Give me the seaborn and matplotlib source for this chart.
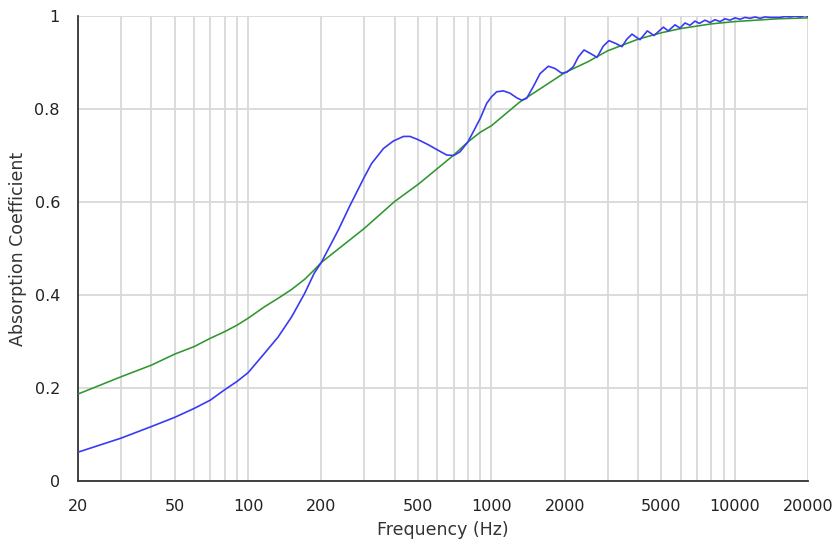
import numpy as np
import pandas as pd
import matplotlib
matplotlib.use("Agg")
import matplotlib.pyplot as plt
import seaborn as sns
from matplotlib.ticker import FixedLocator, NullFormatter

# ---- data ----
blue_freq = [20, 30, 40, 50, 60, 70, 80, 90, 100, 117, 133, 151, 171, 187, 200,
             235, 262, 300, 322, 360, 395, 435, 463, 500, 551, 600, 655, 700, 743,
             800, 856, 900, 956, 1000, 1051, 1120, 1192, 1271, 1332, 1396, 1486,
             1584, 1714, 1826, 1944, 2039, 2171, 2276, 2402, 2560, 2716, 2880, 3043,
             3240, 3440, 3600, 3782, 3900, 4080, 4372, 4658, 5087, 5333, 5680, 5957,
             6246, 6547, 6866, 7152, 7549, 7915, 8296, 8698, 9120, 9560, 10023,
             10510, 11018, 11557, 12114, 12700, 13316, 13960, 15349, 16090, 16868,
             17686, 18542, 19440, 20000]
blue_vals = [0.062, 0.092, 0.117, 0.137, 0.156, 0.174, 0.196, 0.214, 0.233, 0.275,
             0.310, 0.353, 0.404, 0.447, 0.470, 0.540, 0.592, 0.653, 0.683, 0.715,
             0.731, 0.741, 0.741, 0.734, 0.723, 0.712, 0.701, 0.700, 0.708, 0.729,
             0.758, 0.780, 0.812, 0.826, 0.837, 0.839, 0.834, 0.824, 0.819, 0.823,
             0.848, 0.876, 0.892, 0.887, 0.877, 0.879, 0.891, 0.912, 0.927, 0.919,
             0.911, 0.935, 0.947, 0.941, 0.934, 0.950, 0.961, 0.956, 0.949, 0.968,
             0.958, 0.976, 0.968, 0.981, 0.974, 0.985, 0.980, 0.989, 0.984, 0.991,
             0.986, 0.992, 0.988, 0.994, 0.991, 0.996, 0.993, 0.997, 0.995, 0.998,
             0.995, 0.998, 0.997, 0.997, 0.999, 0.998, 1.000, 0.998, 1.001, 0.999]

green_freq = [20, 30, 40, 50, 60, 70, 80, 90, 100, 117, 133, 151, 171, 187, 200,
              300, 400, 500, 600, 700, 800, 900, 1000, 1300, 1560, 2000, 2500, 3000,
              4000, 5000, 6000, 8000, 10000, 15000, 20000]
green_vals = [0.187, 0.224, 0.249, 0.273, 0.289, 0.307, 0.321, 0.335, 0.350, 0.375,
              0.393, 0.412, 0.434, 0.454, 0.470, 0.543, 0.601, 0.638, 0.672, 0.701,
              0.729, 0.750, 0.764, 0.814, 0.841, 0.878, 0.902, 0.925, 0.950, 0.964,
              0.973, 0.983, 0.988, 0.994, 0.996]

x_major = [20, 50, 100, 200, 500, 1000, 2000, 5000, 10000, 20000]
x_grid = [20, 30, 40, 50, 60, 70, 80, 90, 100, 200, 300, 400, 500, 600, 700, 800,
          900, 1000, 2000, 3000, 4000, 5000, 6000, 7000, 8000, 9000, 10000, 20000]
y_ticks = [0, 0.2, 0.4, 0.6, 0.8, 1]
y_labels = ["0", "0.2", "0.4", "0.6", "0.8", "1"]

# ---- plot ----
sns.set_style("white")
plt.rcParams["font.family"] = ["DejaVu Sans"]

fig = plt.figure(figsize=(8.4, 5.43), dpi=100)
ax = fig.add_axes([78 / 840, 1 - 481 / 543, 730 / 840, 465 / 543])

df_b = pd.DataFrame({"f": blue_freq, "a": blue_vals})
df_g = pd.DataFrame({"f": green_freq, "a": green_vals})

ax.set_xscale("log")
sns.lineplot(data=df_g, x="f", y="a", ax=ax, color="#2f962f", linewidth=1.15,
             zorder=3, estimator=None, sort=True)
sns.lineplot(data=df_b, x="f", y="a", ax=ax, color="#3a3af2", linewidth=1.2,
             zorder=4, estimator=None, sort=True)

ax.set_xlim(20, 20000)
ax.set_ylim(0, 1)

ax.xaxis.set_major_locator(FixedLocator(x_major))
ax.set_xticklabels([str(v) for v in x_major])
ax.xaxis.set_minor_locator(FixedLocator(x_grid))
ax.xaxis.set_minor_formatter(NullFormatter())
ax.set_yticks(y_ticks)
ax.set_yticklabels(y_labels)

ax.grid(True, which="both", axis="x", color="#d9d9d9", linewidth=1.3, zorder=0)
ax.grid(True, which="major", axis="y", color="#d9d9d9", linewidth=1.3, zorder=0)
ax.set_axisbelow(True)

for side in ["top", "right"]:
    ax.spines[side].set_visible(False)
for side in ["left", "bottom"]:
    ax.spines[side].set_color("#333333")
    ax.spines[side].set_linewidth(1.3)

ax.tick_params(axis="both", which="major", direction="out", length=5, width=1.2,
               color="#333333", labelsize=11.5, labelcolor="#222222")
ax.tick_params(axis="x", which="major", pad=8)
ax.tick_params(axis="y", which="major", pad=8)
ax.tick_params(axis="x", which="minor", length=0)

ax.set_xlabel("Frequency (Hz)", fontsize=12.5, color="#333333", labelpad=5)
ax.set_ylabel("Absorption Coefficient", fontsize=12.5, color="#333333", labelpad=5)

fig.savefig("out.png", dpi=100)
